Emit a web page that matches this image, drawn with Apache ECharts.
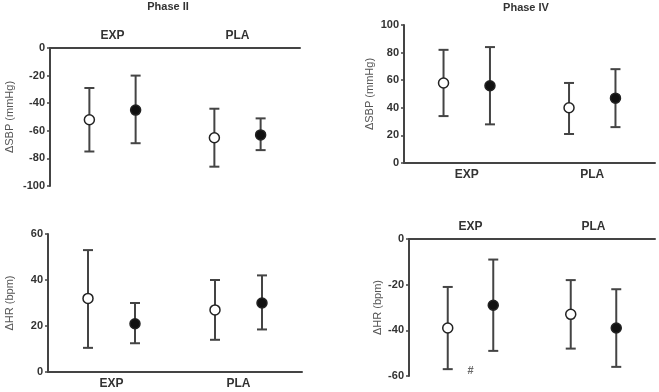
<!DOCTYPE html>
<html>
<head>
<meta charset="utf-8">
<title>Phase II / Phase IV</title>
<style>
  html, body { margin: 0; padding: 0; background: #fff; }
  #chart { width: 659px; height: 392px; }
</style>
</head>
<body>
<div id="chart"></div>
<script src="https://cdn.jsdelivr.net/npm/echarts@6/dist/echarts.min.js"></script>
<script>
'use strict';
// categories on every x axis
var categories = ['EXP', 'PLA'];

// each row: [mean, lower, upper] for EXP then PLA
var sbp2Open   = [[-52, -75, -29], [-65, -86, -44]];
var sbp2Filled = [[-45, -69, -20], [-63, -74, -51]];
var sbp4Open   = [[58, 34, 82], [40, 21, 58]];
var sbp4Filled = [[56, 28, 84], [47, 26, 68]];
var hr2Open    = [[32, 10.5, 53], [27, 14, 40]];
var hr2Filled  = [[21, 12.5, 30], [30, 18.5, 42]];
var hr4Open    = [[-39, -57, -21], [-33, -48, -18]];
var hr4Filled  = [[-29, -49, -9], [-39, -56, -22]];

// significance mark (#) under EXP in Phase IV HR
var hashMark = [[0, -58]];

var axisColor = '#444';
var fontFam = 'Liberation Sans, Arial';
var textStyle = { color: '#333', fontWeight: 'bold', fontFamily: fontFam, fontSize: 11 };

function toData(rows) {
  var out = [];
  for (var i = 0; i < rows.length; i++) {
    out.push([i, rows[i][0], rows[i][1], rows[i][2]]);
  }
  return out;
}

// error bar + circle, shifted left/right inside the category band
function makeRender(shift, filled) {
  return function (params, api) {
    var idx = api.value(0);
    var band = api.size([1, 0])[0];
    var dx = band * shift;
    var mid = api.coord([idx, api.value(1)]);
    var lo = api.coord([idx, api.value(2)]);
    var hi = api.coord([idx, api.value(3)]);
    var x = mid[0] + dx;
    var cap = 5;
    var ls = { stroke: axisColor, lineWidth: 2 };
    return {
      type: 'group',
      children: [
        { type: 'line', shape: { x1: x, y1: lo[1], x2: x, y2: hi[1] }, style: ls },
        { type: 'line', shape: { x1: x - cap, y1: lo[1], x2: x + cap, y2: lo[1] }, style: ls },
        { type: 'line', shape: { x1: x - cap, y1: hi[1], x2: x + cap, y2: hi[1] }, style: ls },
        {
          type: 'circle',
          shape: { cx: x, cy: mid[1], r: 5 },
          style: { fill: filled ? '#111' : '#fff', stroke: '#222', lineWidth: 1.5 }
        }
      ]
    };
  };
}

function xAxisFor(gridIndex, pos) {
  return {
    type: 'category',
    gridIndex: gridIndex,
    data: categories,
    position: pos,
    axisLine: { onZero: false, lineStyle: { color: axisColor, width: 2 } },
    axisTick: { alignWithLabel: true, length: 3, lineStyle: { color: axisColor, width: 1.5 } },
    axisLabel: Object.assign({}, textStyle, { margin: 6, fontSize: 12 }),
    splitLine: { show: false }
  };
}

function yAxisFor(gridIndex, min, max, name, gap) {
  return {
    type: 'value',
    gridIndex: gridIndex,
    min: min,
    max: max,
    interval: 20,
    name: name,
    nameLocation: 'middle',
    nameGap: gap,
    nameTextStyle: { color: '#555', fontSize: 11, fontFamily: fontFam },
    axisLine: { show: true, lineStyle: { color: axisColor, width: 2 } },
    axisTick: { show: true, length: 3, lineStyle: { color: axisColor, width: 1.5 } },
    axisLabel: Object.assign({}, textStyle, { margin: 5 }),
    splitLine: { show: false }
  };
}

function pair(idx, openRows, filledRows) {
  return [
    { type: 'custom', xAxisIndex: idx, yAxisIndex: idx, data: toData(openRows), renderItem: makeRender(-0.185, false), clip: false },
    { type: 'custom', xAxisIndex: idx, yAxisIndex: idx, data: toData(filledRows), renderItem: makeRender(0.185, true), clip: false }
  ];
}

var chart = echarts.init(document.getElementById('chart'));
var series = []
  .concat(pair(0, sbp2Open, sbp2Filled))
  .concat(pair(1, sbp4Open, sbp4Filled))
  .concat(pair(2, hr2Open, hr2Filled))
  .concat(pair(3, hr4Open, hr4Filled));

series.push({
  type: 'scatter',
  xAxisIndex: 3,
  yAxisIndex: 3,
  data: hashMark,
  symbolSize: 0,
  silent: true,
  label: {
    show: true,
    position: 'inside',
    formatter: '#',
    color: '#444',
    fontSize: 11,
    fontWeight: 'bold'
  }
});

var titleStyle = { fontSize: 11, fontWeight: 'bold', color: '#333', fontFamily: fontFam };
var option = {
  animation: false,
  backgroundColor: '#fff',
  title: [
    { text: 'Phase II', left: 168, top: 1, padding: 0, textAlign: 'center', textStyle: titleStyle },
    { text: 'Phase IV', left: 526, top: 2, padding: 0, textAlign: 'center', textStyle: titleStyle }
  ],
  grid: [
    { left: 50, top: 48, right: 359, bottom: 206 },
    { left: 404, top: 25, right: 4, bottom: 229 },
    { left: 48, top: 234, right: 357, bottom: 20 },
    { left: 409, top: 239, right: 4, bottom: 16 }
  ],
  xAxis: [
    xAxisFor(0, 'top'),
    xAxisFor(1, 'bottom'),
    xAxisFor(2, 'bottom'),
    xAxisFor(3, 'top')
  ],
  yAxis: [
    yAxisFor(0, -100, 0, 'ΔSBP (mmHg)', 35),
    yAxisFor(1, 0, 100, 'ΔSBP (mmHg)', 29),
    yAxisFor(2, 0, 60, 'ΔHR (bpm)', 33),
    yAxisFor(3, -60, 0, 'ΔHR (bpm)', 26)
  ],
  series: series
};
chart.setOption(option);
</script>
</body>
</html>
